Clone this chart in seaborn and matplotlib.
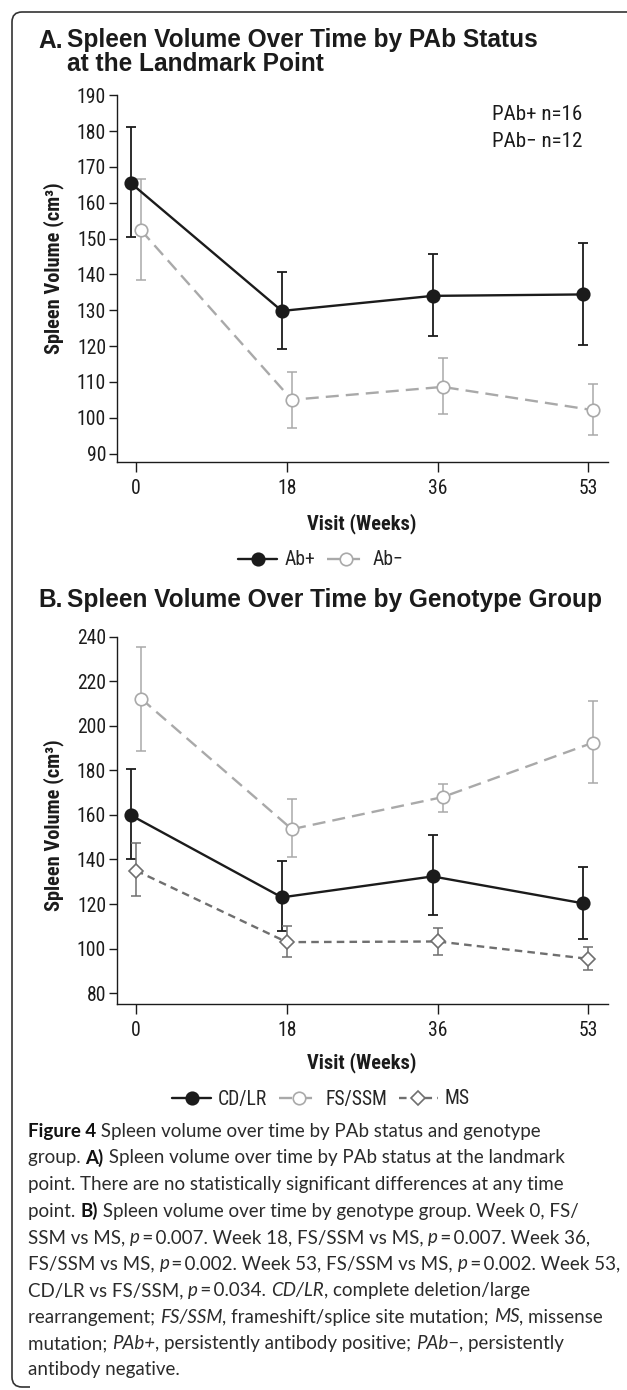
import numpy as np
import pandas as pd
import matplotlib
matplotlib.use("Agg")
import matplotlib.pyplot as plt
import seaborn as sns
from matplotlib import font_manager as fm
from matplotlib.path import Path
from matplotlib.patches import PathPatch

# ---------------- data ----------------
weeks = ["0", "18", "36", "53"]

# Panel A: PAb status
ab_labels = ["Ab+", "Ab\u2212"]
ab_pos_mean = [165.4, 129.8, 134.0, 134.4]
ab_pos_low = [150.4, 119.2, 122.9, 120.4]
ab_pos_high = [181.2, 140.6, 145.6, 148.7]
ab_neg_mean = [152.3, 105.0, 108.6, 102.1]
ab_neg_low = [138.3, 97.2, 101.1, 95.3]
ab_neg_high = [166.6, 112.8, 116.7, 109.5]

# Panel B: genotype group
geno_labels = ["CD/LR", "FS/SSM", "MS"]
cd_mean = [159.8, 123.0, 132.4, 120.3]
cd_low = [140.0, 107.7, 114.9, 104.4]
cd_high = [180.8, 139.2, 151.2, 136.5]
fs_mean = [212.2, 153.6, 168.0, 192.5]
fs_low = [188.5, 140.9, 161.4, 174.5]
fs_high = [235.5, 167.3, 174.0, 211.0]
ms_mean = [135.0, 102.9, 103.2, 95.4]
ms_low = [123.4, 96.1, 97.2, 90.5]
ms_high = [147.2, 110.0, 109.2, 100.6]

# ---------------- fonts ----------------
sns.set_style("ticks")
entries = fm.fontManager.ttflist
names = {f.name for f in entries}


def find_narrow():
    for n in ["Liberation Sans Narrow", "Arial Narrow", "Nimbus Sans Narrow",
              "Roboto Condensed", "Noto Sans Condensed", "DejaVu Sans Condensed",
              "Open Sans Condensed"]:
        if n in names:
            return n, "normal"
    for f in entries:
        if f.name in ("DejaVu Sans", "Noto Sans", "Open Sans", "Roboto", "Liberation Sans") \
                and str(f.stretch) in ("condensed", "semi-condensed", "extra-condensed"):
            return f.name, str(f.stretch)
    for f in entries:
        low = (f.fname or "").lower()
        if ("narrow" in low or "condensed" in low) and "mono" not in low and "serif" not in low:
            return f.name, str(f.stretch)
    return ("Liberation Sans" if "Liberation Sans" in names else "DejaVu Sans"), "normal"


NARROW, STRETCH = find_narrow()
SANS = "Liberation Sans" if "Liberation Sans" in names else "DejaVu Sans"
CAPF = "Lato" if "Lato" in names else "DejaVu Sans"
plt.rcParams["font.family"] = [NARROW, "DejaVu Sans"]
plt.rcParams["font.stretch"] = STRETCH
plt.rcParams["axes.linewidth"] = 1.0

W, H = 627, 1390
fig = plt.figure(figsize=(W / 100, H / 100), dpi=100)
fig.patch.set_facecolor("white")
renderer = fig.canvas.get_renderer()


def fx(x):
    return x / W


def fy(y):
    return 1 - y / H


def fit(text, target_px, **kw):
    t = fig.text(0, 0, text, fontsize=20, **kw)
    w = t.get_window_extent(renderer=renderer).width
    t.remove()
    return 20 * target_px / w


BLACK = "#1b1b1b"
LGRAY = "#a9a9a9"
DGRAY = "#6f6f6f"
TICK_FS = fit("180", 29)
NOTE_FS = fit("PAb+ n=16", 90)
LEG_FS = TICK_FS
XLAB_FS = fit("Visit (Weeks)", 109, weight="bold")
YLAB_FS = XLAB_FS
TFS = 0.5 * (fit("Spleen Volume Over Time by PAb Status", 471, weight="bold", family=SANS)
             + fit("Spleen Volume Over Time by Genotype Group", 537, weight="bold", family=SANS))


def series(ax, pos, mean, low, high, label, color, marker, mfc, ms, ls, lw, elw, cap):
    xs = np.arange(len(weeks)) + pos
    mean = np.asarray(mean)
    yerr = [mean - np.asarray(low), np.asarray(high) - mean]
    ax.errorbar(xs, mean, yerr=yerr, fmt="none", ecolor=color, elinewidth=elw,
                capsize=cap, capthick=elw, zorder=2)
    df = pd.DataFrame({"x": xs, "y": mean})
    sns.lineplot(data=df, x="x", y="y", ax=ax, color=color, marker=marker,
                 markersize=ms, markerfacecolor=mfc, markeredgecolor=color,
                 markeredgewidth=1.2, linestyle=ls, linewidth=lw, label=label,
                 errorbar=None, sort=False, legend=False, zorder=3)
    return ax.get_lines()[-1]


def style_axes(ax, ylim, yticks):
    ax.set_xlim(-0.13, 3.13)
    ax.set_ylim(*ylim)
    ax.set_xticks(range(len(weeks)))
    ax.set_xticklabels(weeks)
    ax.set_yticks(yticks)
    ax.set_xlabel("")
    ax.set_ylabel("")
    sns.despine(ax=ax)
    ax.tick_params(axis="x", length=7.2, width=1.0, pad=5, labelsize=TICK_FS, colors=BLACK)
    ax.tick_params(axis="y", length=6, width=1.0, pad=1.5, labelsize=TICK_FS, colors=BLACK)
    for s in ("left", "bottom"):
        ax.spines[s].set_color(BLACK)
    ax.set_facecolor("white")


# ---------------- panel A ----------------
axA = fig.add_axes([fx(116.5), fy(462.5), (608 - 116.5) / W, (462.5 - 95.2) / H])
hA1 = series(axA, -0.033, ab_pos_mean, ab_pos_low, ab_pos_high, ab_labels[0],
             BLACK, "o", BLACK, 9.0, "-", 1.7, 1.3, 3.9)
hA2 = series(axA, 0.033, ab_neg_mean, ab_neg_low, ab_neg_high, ab_labels[1],
             LGRAY, "o", "white", 9.0, (0, (5.5, 3)), 1.7, 1.1, 3.4)
style_axes(axA, (87.5, 190), range(90, 191, 10))
fig.text(fx(492), fy(115), "PAb+ n=16", fontsize=NOTE_FS, color=BLACK, va="center", ha="left")
fig.text(fx(492), fy(141.5), "PAb\u2212 n=12", fontsize=NOTE_FS, color=BLACK, va="center", ha="left")

# ---------------- panel B ----------------
axB = fig.add_axes([fx(116.5), fy(1004.3), (608 - 116.5) / W, (1004.3 - 636.7) / H])
hB1 = series(axB, -0.033, cd_mean, cd_low, cd_high, geno_labels[0],
             BLACK, "o", BLACK, 9.0, "-", 1.7, 1.3, 3.9)
hB2 = series(axB, 0.033, fs_mean, fs_low, fs_high, geno_labels[1],
             LGRAY, "o", "white", 9.0, (0, (5.5, 3)), 1.7, 1.1, 3.4)
hB3 = series(axB, 0.0, ms_mean, ms_low, ms_high, geno_labels[2],
             DGRAY, "D", "white", 7.2, (0, (3.2, 2.2)), 1.7, 1.1, 3.4)
style_axes(axB, (75, 240), range(80, 241, 20))

# ---------------- titles & labels ----------------
fig.text(fx(38), fy(47.5), "A.", fontsize=TFS, weight="bold", family=SANS,
         color=BLACK, va="baseline", ha="left")
fig.text(fx(67), fy(47.5), "Spleen Volume Over Time by PAb Status", fontsize=TFS,
         weight="bold", family=SANS, color=BLACK, va="baseline", ha="left")
fig.text(fx(67), fy(71), "at the Landmark Point", fontsize=TFS, weight="bold",
         family=SANS, color=BLACK, va="baseline", ha="left")
fig.text(fx(38), fy(607), "B.", fontsize=TFS, weight="bold", family=SANS,
         color=BLACK, va="baseline", ha="left")
fig.text(fx(67), fy(607), "Spleen Volume Over Time by Genotype Group", fontsize=TFS,
         weight="bold", family=SANS, color=BLACK, va="baseline", ha="left")

for yc in (268, 825):
    fig.text(fx(54), fy(yc), "Spleen Volume (cm\u00b3)", rotation=90, fontsize=YLAB_FS,
             weight="bold", color=BLACK, ha="center", va="center")
for yc in (523.5, 1063):
    fig.text(fx(362), fy(yc), "Visit (Weeks)", fontsize=XLAB_FS, weight="bold",
             color=BLACK, ha="center", va="center")

# ---------------- legends ----------------
fig.legend([hA1, hA2], ab_labels, loc="center", bbox_to_anchor=(fx(321), fy(560)),
           ncol=2, frameon=False, fontsize=LEG_FS, handlelength=2.0,
           handletextpad=0.35, columnspacing=0.6, borderpad=0, borderaxespad=0)
fig.legend([hB1, hB2, hB3], geno_labels, loc="center", bbox_to_anchor=(fx(321), fy(1099)),
           ncol=3, frameon=False, fontsize=LEG_FS, handlelength=2.0,
           handletextpad=0.35, columnspacing=0.6, borderpad=0, borderaxespad=0)

# ---------------- caption ----------------
N, B, I = "normal", "bold", "italic"
TS = "\u2009"
eq = TS + "=" + TS
caption = [
    [("Figure 4", B), (" Spleen volume over time by PAb status and genotype", N)],
    [("group. ", N), ("A)", B), (" Spleen volume over time by PAb status at the landmark", N)],
    [("point. There are no statistically significant differences at any time", N)],
    [("point. ", N), ("B)", B), (" Spleen volume over time by genotype group. Week 0, FS/", N)],
    [("SSM vs MS, ", N), ("p", I), (eq + "0.007. Week 18, FS/SSM vs MS, ", N), ("p", I),
     (eq + "0.007. Week 36,", N)],
    [("FS/SSM vs MS, ", N), ("p", I), (eq + "0.002. Week 53, FS/SSM vs MS, ", N), ("p", I),
     (eq + "0.002. Week 53,", N)],
    [("CD/LR vs FS/SSM, ", N), ("p", I), (eq + "0.034. ", N), ("CD/LR", I),
     (", complete deletion/large", N)],
    [("rearrangement; ", N), ("FS/SSM", I), (", frameshift/splice site mutation; ", N),
     ("MS", I), (", missense", N)],
    [("mutation; ", N), ("PAb+", I), (", persistently antibody positive; ", N),
     ("PAb\u2212", I), (", persistently", N)],
    [("antibody negative.", N)],
]


def cap_kw(st, size):
    kw = dict(fontsize=size, family=[CAPF, "DejaVu Sans"], va="baseline", ha="left",
              color="#2b2b2b")
    if st == B:
        kw["weight"] = "bold"
        kw["color"] = "#111111"
    if st == I:
        kw["style"] = "italic"
    return kw


def line_width(line, size):
    tot = 0.0
    for txt, st in line:
        t = fig.text(0, 0, txt, **cap_kw(st, size))
        tot += t.get_window_extent(renderer=renderer).width
        t.remove()
    return tot


CAP_FS = 20 * 592 / max(line_width(l, 20) for l in caption)
for i, line in enumerate(caption):
    x = 28.0
    yb = 1137 + i * 26.5
    for txt, st in line:
        t = fig.text(fx(x), fy(yb), txt, **cap_kw(st, CAP_FS))
        x += t.get_window_extent(renderer=renderer).width

# ---------------- frame ----------------
pts = [(627, 12), (22, 12), (12, 12), (12, 22), (12, 1377), (12, 1387), (22, 1387), (30, 1387)]
codes = [Path.MOVETO, Path.LINETO, Path.CURVE3, Path.CURVE3, Path.LINETO,
         Path.CURVE3, Path.CURVE3, Path.LINETO]
path = Path([(fx(a), fy(b)) for a, b in pts], codes)
fig.add_artist(PathPatch(path, transform=fig.transFigure, fill=False,
                         edgecolor="#333333", linewidth=1.2))

fig.savefig("out.png", dpi=100, facecolor="white")
